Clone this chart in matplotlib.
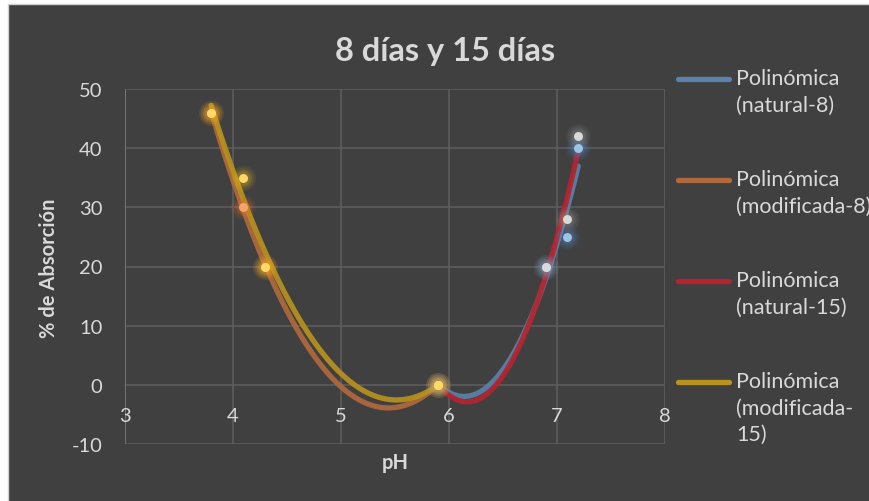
import numpy as np
import matplotlib.pyplot as plt
from matplotlib.patches import Rectangle
from matplotlib.lines import Line2D

# pH / absorption measurements
ph_mod = [3.8, 4.1, 4.3, 5.9]
mod_8 = [46, 30, 20, 0]
mod_15 = [46, 35, 20, 0]

ph_nat = [5.9, 6.9, 7.1, 7.2]
nat_8 = [0, 20, 25, 40]
nat_15 = [0, 20, 28, 42]

series = [
    # label, x, y, trend colour, point colour, glow colour
    ("Polinómica\n(natural-8)", ph_nat, nat_8, "#5a82aa", "#9dc3e6", "#4f8fd0"),
    ("Polinómica\n(modificada-8)", ph_mod, mod_8, "#b0693c", "#f4a46a", "#e8782a"),
    ("Polinómica\n(natural-15)", ph_nat, nat_15, "#b5242e", "#d9d9d9", "#9a9a9a"),
    ("Polinómica\n(modificada-\n15)", ph_mod, mod_15, "#b8921c", "#ffd966", "#f0c020"),
]

plt.rcParams["font.family"] = ["Lato", "DejaVu Sans"]
plt.rcParams["axes.unicode_minus"] = False
txt = "#d9d9d9"
bg = "#404040"
fs = 14.5

fig = plt.figure(figsize=(8.7, 5.02), dpi=100)
fig.patch.set_facecolor("white")
W, H = 870, 502
fig.patches.append(Rectangle((8 / W, -0.05), 1.0, 1 - 5 / H + 0.05,
                             transform=fig.transFigure, facecolor=bg,
                             edgecolor="#d0d0d0", linewidth=1.0, zorder=-5))

ax = fig.add_axes([124.7 / W, 57 / H, 540 / W, 355 / H])
ax.set_facecolor(bg)
ax.set_xlim(3, 8)
ax.set_ylim(-10, 50)
ax.set_xticks(range(3, 9))
ax.set_yticks(range(-10, 51, 10))
ax.grid(True, color="#5c5c5c", linewidth=1.2)
ax.set_axisbelow(True)
for s in ax.spines.values():
    s.set_visible(False)
ax.axvline(3, color="#7a7a7a", linewidth=1.2, zorder=1)
ax.tick_params(length=0, labelsize=fs, colors=txt)
ax.set_xticklabels([])
# horizontal axis crosses at y = 0, so its labels sit just below that line
for v in range(3, 9):
    ax.text(v, -5.2, str(v), ha="center", va="center", fontsize=fs, color=txt)
ax.tick_params(axis="y", pad=16)

for label, x, y, col, pcol, gcol in series:
    coef = np.polyfit(x, y, 2)
    xs = np.linspace(min(x), max(x), 200)
    ax.plot(xs, np.polyval(coef, xs), color=col, linewidth=3.8,
            solid_capstyle="round", alpha=0.92, zorder=3)

for label, x, y, col, pcol, gcol in series:
    # soft glow under each point
    for size, a in [(330, 0.07), (240, 0.09), (160, 0.12), (100, 0.16)]:
        ax.scatter(x, y, s=size, color=gcol, alpha=a, linewidths=0, zorder=4)
    ax.scatter(x, y, s=42, color=pcol, linewidths=0, zorder=5)

fig.text(445 / W, 1 - 52 / H, "8 días y 15 días", ha="center", va="center",
         fontsize=23.5, fontweight="bold", color=txt)
fig.text(49 / W, 1 - 268 / H, "% de Absorción", ha="center", va="center",
         rotation=90, fontsize=14.5, fontweight="bold", color=txt)
fig.text(395 / W, 1 - 463 / H, "pH", ha="center", va="center",
         fontsize=14.5, fontweight="bold", color=txt)

# legend: handle aligned with the first text line
for i, (label, x, y, col, pcol, gcol) in enumerate(series):
    ly = 80 + i * 101
    fig.add_artist(Line2D([678 / W, 729 / W], [1 - ly / H, 1 - ly / H],
                          color=col, linewidth=3.8, solid_capstyle="round"))
    fig.text(736 / W, 1 - (ly - 11) / H, label, ha="left", va="top",
             fontsize=15.5, color=txt, linespacing=1.4)

fig.savefig("out.png", dpi=100, facecolor=fig.get_facecolor())
